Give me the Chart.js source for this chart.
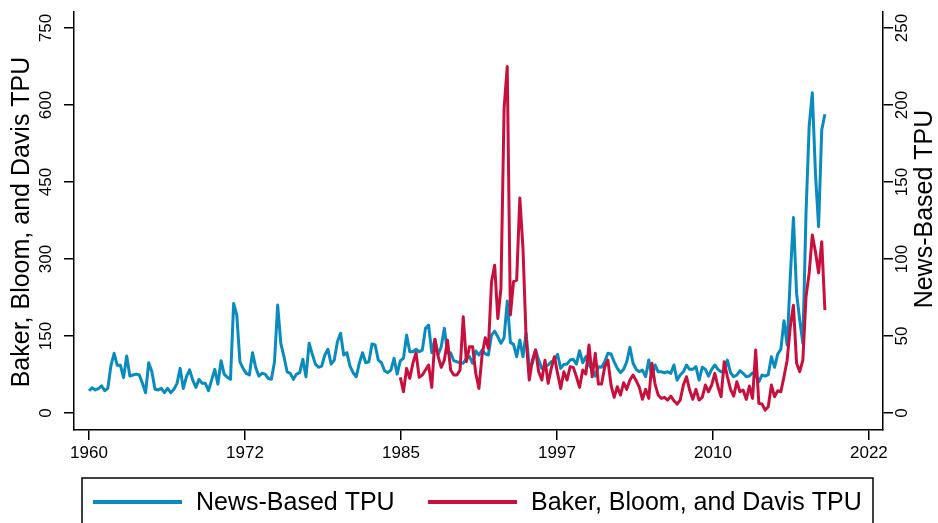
<!DOCTYPE html>
<html>
<head>
<meta charset="utf-8">
<script src="https://cdn.jsdelivr.net/npm/chart.js@4.4.1/dist/chart.umd.min.js"></script>
<style>
  body { margin: 0; background: #fff; }
</style>
</head>
<body>
<canvas id="tpu-chart" width="938" height="523"></canvas>
<script>
// quarterly series, first quarter of each one
const newsStart = 1960;
const bbdStart = 1984.75;

// News-Based TPU (right axis)
const newsTpu = [
  14.5, 16.4, 15, 15.8, 17.7, 14.5, 16, 31, 38.8, 31, 31, 23, 37, 24, 24.7, 25.3, 24.7, 19.3, 13.2, 32.7,
  26.8, 15.4, 15, 16, 13.2, 16, 13.2, 15.4, 19.3, 29, 16, 23.6, 28, 21.4, 16.7, 21.9, 19.3, 19.3, 14.5,
  21.4, 28.4, 18.8, 34, 25.3, 23.2, 21.9, 71.2, 63.6, 33.3, 29, 25.8, 24.7, 39.2, 29.7, 24, 25.8, 25.3, 22.5, 21.9,
  33.3, 70.1, 45.3, 36.6, 26.8, 25.8, 21.9, 25.3, 26.2, 34.9, 23.6, 45.3, 38.3, 31.8, 29.7, 30.5, 37.7, 41.4, 31.8, 34.4,
  46.3, 51.8,
  37.7, 39.2, 30.5, 26.2, 23.6, 32.7, 39.2, 32.7, 33.3, 44.8, 44.2, 34.4, 32.7, 27.5, 26.2, 27.9, 35.5, 25.3, 34, 35.5,
  50.6, 39.8, 39.8, 41.4, 39.8, 40.9, 55, 57.1, 39.2, 47.8, 37.7, 43.1, 55, 39.2, 39.2, 34, 33.3, 32.7, 32.3, 35.5, 36.6,
  32.3, 40.3, 37.7, 40.9, 38.5, 37.7, 50.6, 53.2, 49.5, 45.3, 48.9, 72.7, 45.9, 44.6, 36.6, 47.4, 36.6, 51.8, 30.1, 32.3,
  40.9, 34.4, 29, 30.1, 31.2, 33.3, 34.4, 38.1, 29, 31.6,
  31.8, 34.4, 34.9, 31.8, 40.5, 32.7, 36.6, 31.2, 28.4, 24, 30.1, 29.7, 33.3, 38.8, 38.3, 33.3, 29, 26.2, 28.4, 33.3,
  42.7, 32.3, 28.4, 26.8, 27.9, 23.6, 34.4, 23.6, 31.2, 26.8, 26.8, 26.2, 26.8, 25.8, 31.2, 21.4, 24.7, 26.8, 31.2, 28.4,
  28.4, 30.1, 21.4, 29.7,
  28.4, 24, 28.4, 31.2, 28.4, 26.8, 26.8, 34.4, 26.2, 23.6, 24.7, 27.5, 25.8, 23.6, 24, 26.2, 24.7, 20.3, 24.7, 24,
  25, 36.6, 29.7, 38.3, 41.4, 60, 44.2, 88.5, 127, 77.7, 60.4, 45.3, 129.7, 186, 208, 155.6, 121, 183.8, 194
];

// Baker, Bloom, and Davis TPU (left axis)
const bbdTpu = [
  69.5, 41.5, 87, 67.6, 96.8, 117.5, 69.5, 74, 83.8, 93.5, 50, 143.6, 111, 89, 103, 142, 83.8, 74, 74, 83.8,
  187.6, 100, 129,
  129, 77, 48, 113, 146.7, 126, 255.8, 288, 184, 243, 593.6, 674.7, 191, 255.8, 259, 419, 321, 145.5, 64.3, 103,
  122.7, 80.5, 64.3, 103, 57.8, 87, 109.7, 77.3, 48, 80.5,
  64.3, 90.2, 89, 70.7, 50, 83.8, 76, 132.5, 70.7, 116.3, 56.5, 56.5, 90.2, 103, 54.5, 30.6, 51.2, 35, 59, 46.2,
  64.3, 74, 63, 50, 26.7, 46.2, 28.6, 96.8, 56.5, 35, 28.6, 30.6, 25.3, 33, 24, 17.5, 25.3, 54.5, 70.7, 44.8,
  26.7, 46.2, 25.3, 30.6,
  54.5, 41.5, 54.5, 77.3, 51.2, 31.8, 100, 70.7, 46.2, 33, 61, 41.5, 44.8, 26.7, 52.6, 28.6, 122.7, 18.9, 17.5, 5.8,
  12.3, 54.5, 31.8, 43.4, 41.5, 70.7, 103, 168, 210, 96.8, 80.5, 103, 226.6, 272, 346.8, 314, 273, 333.7, 200.7
];

const xTicks = [1960, 1972.4, 1984.8, 1997.2, 2009.6, 2022];
const leftTicks = [0, 150, 300, 450, 600, 750];
const rightTicks = [0, 50, 100, 150, 200, 250];

const font = '"Liberation Sans", Arial, sans-serif';

const toPoints = (arr, start) => arr.map((v, i) => ({ x: start + i / 4, y: v }));

// rotated tick labels, titles and boxed legend (stata look)
const stataLook = {
    id: 'stataLook',
    afterDraw(chart) {
        const ctx = chart.ctx;
        const area = chart.chartArea;
        const yL = chart.scales.yL;
        const yR = chart.scales.yR;
        ctx.save();
        ctx.strokeStyle = '#000';
        ctx.lineWidth = 1.5;

        ctx.fillStyle = '#000';
        ctx.textAlign = 'center';
        ctx.textBaseline = 'middle';
        ctx.font = '17px ' + font;
        leftTicks.forEach(v => {
            ctx.save();
            ctx.translate(area.left - 28, yL.getPixelForValue(v));
            ctx.rotate(-Math.PI / 2);
            ctx.fillText(String(v), 0, 0);
            ctx.restore();
        });
        rightTicks.forEach(v => {
            ctx.save();
            ctx.translate(area.right + 19, yR.getPixelForValue(v));
            ctx.rotate(-Math.PI / 2);
            ctx.fillText(String(v), 0, 0);
            ctx.restore();
        });

        ctx.font = '25px ' + font;
        ctx.save();
        ctx.translate(22, (area.top + area.bottom) / 2 + 1);
        ctx.rotate(-Math.PI / 2);
        ctx.fillText('Baker, Bloom, and Davis TPU', 0, 0);
        ctx.restore();
        ctx.save();
        ctx.translate(925, 209);
        ctx.rotate(-Math.PI / 2);
        ctx.fillText('News-Based TPU', 0, 0);
        ctx.restore();

        // legend
        ctx.strokeRect(82, 478, 791, 60);
        const items = [
            { ds: chart.data.datasets[1], x0: 93 },
            { ds: chart.data.datasets[0], x0: 428 }
        ];
        ctx.textAlign = 'left';
        items.forEach(it => {
            ctx.strokeStyle = it.ds.borderColor;
            ctx.lineWidth = 4;
            ctx.beginPath();
            ctx.moveTo(it.x0, 502);
            ctx.lineTo(it.x0 + 89, 502);
            ctx.stroke();
            ctx.fillText(it.ds.label, it.x0 + 103, 503);
        });
        ctx.restore();
    }
};

document.addEventListener('DOMContentLoaded', function() {
    const ctx = document.getElementById('tpu-chart').getContext('2d');
    new Chart(ctx, {
        type: 'line',
        data: {
            datasets: [
                {
                    label: 'Baker, Bloom, and Davis TPU',
                    data: toPoints(bbdTpu, bbdStart),
                    yAxisID: 'yL',
                    borderColor: '#c8103e',
                    borderWidth: 3,
                    pointRadius: 0,
                    borderJoinStyle: 'round',
                    tension: 0,
                    order: 0
                },
                {
                    label: 'News-Based TPU',
                    data: toPoints(newsTpu, newsStart),
                    yAxisID: 'yR',
                    borderColor: '#0a8bbd',
                    borderWidth: 3,
                    pointRadius: 0,
                    borderJoinStyle: 'round',
                    tension: 0,
                    order: 1
                }
            ]
        },
        options: {
            responsive: false,
            animation: false,
            devicePixelRatio: 1,
            layout: { padding: { top: 12, left: 0, right: 0, bottom: 0 } },
            plugins: {
                legend: { display: false },
                tooltip: { enabled: false }
            },
            scales: {
                x: {
                    type: 'linear',
                    min: 1958.81,
                    max: 2023.12,
                    afterBuildTicks: axis => { axis.ticks = xTicks.map(v => ({ value: v })); },
                    afterFit: scale => { scale.height = 93; },
                    grid: { drawOnChartArea: false, color: '#000', lineWidth: 1.5, tickLength: 10 },
                    border: { color: '#000', width: 1.5 },
                    ticks: {
                        color: '#000',
                        font: { family: font, size: 17 },
                        padding: 3,
                        maxRotation: 0,
                        autoSkip: false,
                        callback: v => Math.round(v)
                    }
                },
                yL: {
                    position: 'left',
                    min: -33,
                    max: 781,
                    afterBuildTicks: axis => { axis.ticks = leftTicks.map(v => ({ value: v })); },
                    afterFit: scale => { scale.width = 74; },
                    grid: { drawOnChartArea: false, color: '#000', lineWidth: 1.5, tickLength: 10 },
                    border: { color: '#000', width: 1.5 },
                    ticks: { display: false }
                },
                yR: {
                    position: 'right',
                    min: -11,
                    max: 260.4,
                    afterBuildTicks: axis => { axis.ticks = rightTicks.map(v => ({ value: v })); },
                    afterFit: scale => { scale.width = 55; },
                    grid: { drawOnChartArea: false, color: '#000', lineWidth: 1.5, tickLength: 10 },
                    border: { color: '#000', width: 1.5 },
                    ticks: { display: false }
                }
            }
        },
        plugins: [stataLook]
    });
});
</script>
</body>
</html>
